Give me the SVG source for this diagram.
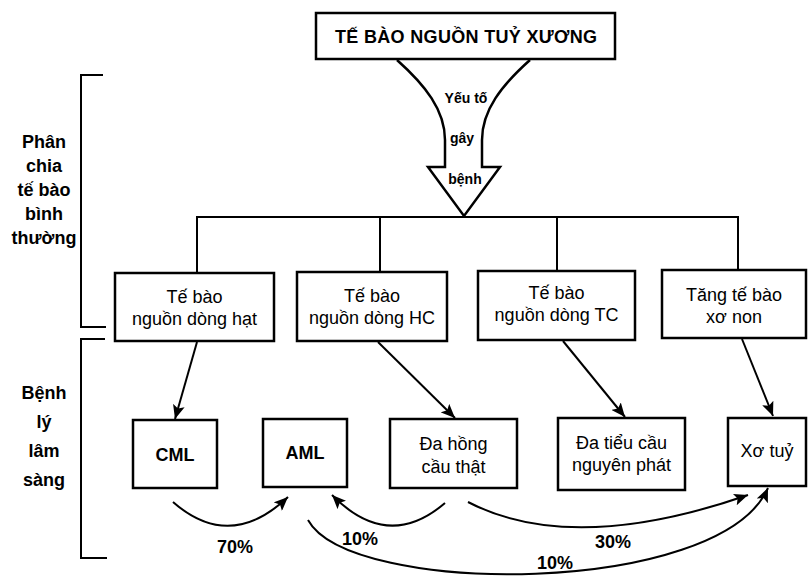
<svg xmlns="http://www.w3.org/2000/svg" width="809" height="577" viewBox="0 0 809 577">
<style>
text{font-family:"Liberation Sans",Arial,sans-serif;fill:#000;text-anchor:middle}
.t{font-size:18px}
.b{font-size:18px;font-weight:bold}
.s{font-size:14px;font-weight:bold}
.box{fill:#fff;stroke:#000;stroke-width:2.5}
.ln{fill:none;stroke:#000;stroke-width:2}
.ar{fill:none;stroke:#000;stroke-width:2;marker-end:url(#ah)}
</style>
<defs>
<marker id="ah" markerUnits="userSpaceOnUse" markerWidth="16" markerHeight="12" refX="14" refY="6" orient="auto">
<path d="M0,0 L14,6 L0,12 L3,6 z" fill="#000"/>
</marker>
</defs>
<rect width="809" height="577" fill="#fff"/>
<g id="labels-left">
<path class="ln" d="M103,75 H81 V327 H106"/>
<text class="b" x="44" y="148">Phân</text>
<text class="b" x="44" y="172">chia</text>
<text class="b" x="44" y="196">tế bào</text>
<text class="b" x="44" y="220">bình</text>
<text class="b" x="44" y="244">thường</text>
<path class="ln" d="M105,339 H81 V558 H107"/>
<text class="b" x="44" y="399">Bệnh</text>
<text class="b" x="44" y="428">lý</text>
<text class="b" x="44" y="457">lâm</text>
<text class="b" x="44" y="486">sàng</text>
</g>
<g id="connectors">
<path id="bigarrow" d="M397,60 C425,85 445,110 445,140 L445,167 L428,167 L464,216 L500,167 L482,167 L482,140 C482,110 502,85 530,60" fill="#fff" stroke="#000" stroke-width="2.5" stroke-linejoin="miter"/>
<text class="s" x="466" y="103">Yếu tố</text>
<text class="s" x="462" y="143">gây</text>
<text class="s" x="465" y="184">bệnh</text>
<path class="ln" d="M197,273 V217 H738 V270 M380,217 V272 M557,217 V271"/>
<line class="ar" x1="197" y1="342" x2="175" y2="419"/>
<line class="ar" x1="378" y1="342" x2="455" y2="418"/>
<line class="ar" x1="563" y1="341" x2="625" y2="417"/>
<line class="ar" x1="742" y1="339" x2="773" y2="416"/>
<path class="ar" d="M173,502 Q230,552 288,497"/>
<path class="ar" d="M445,503 Q388,552 332,495"/>
<path class="ar" d="M468,502 Q572,556 748,495"/>
<path class="ar" d="M308,520 C350,597 720,597 768,488"/>
<text class="b" x="235" y="553">70%</text>
<text class="b" x="360" y="545">10%</text>
<text class="b" x="613" y="548">30%</text>
<text class="b" x="555" y="569">10%</text>
</g>
<g id="n-top">
<rect class="box" x="316" y="13" width="299" height="46"/>
<text class="b" x="466" y="43" textLength="262" lengthAdjust="spacing">TẾ BÀO NGUỒN TUỶ XƯƠNG</text>
</g>
<g id="n-hat">
<rect class="box" x="115" y="273" width="159" height="68"/>
<text class="t" x="194.5" y="303">Tế bào</text>
<text class="t" x="194.5" y="325">nguồn dòng hạt</text>
</g>
<g id="n-hc">
<rect class="box" x="297" y="272" width="150" height="69"/>
<text class="t" x="372" y="302">Tế bào</text>
<text class="t" x="372" y="324">nguồn dòng HC</text>
</g>
<g id="n-tc">
<rect class="box" x="478" y="271" width="157" height="69"/>
<text class="t" x="556.5" y="299">Tế bào</text>
<text class="t" x="556.5" y="321">nguồn dòng TC</text>
</g>
<g id="n-xo">
<rect class="box" x="662" y="270" width="144" height="68"/>
<text class="t" x="734" y="301">Tăng tế bào</text>
<text class="t" x="734" y="323">xơ non</text>
</g>
<g id="n-cml">
<rect class="box" x="133" y="420" width="84" height="68"/>
<text class="b" x="175" y="461">CML</text>
</g>
<g id="n-aml">
<rect class="box" x="263" y="419" width="84" height="68"/>
<text class="b" x="305" y="459">AML</text>
</g>
<g id="n-dahong">
<rect class="box" x="390" y="419" width="127" height="69"/>
<text class="t" x="453.5" y="450">Đa hồng</text>
<text class="t" x="453.5" y="473">cầu thật</text>
</g>
<g id="n-datieu">
<rect class="box" x="558" y="418" width="127" height="72"/>
<text class="t" x="621.5" y="449">Đa tiểu cầu</text>
<text class="t" x="621.5" y="471">nguyên phát</text>
</g>
<g id="n-xotuy">
<rect class="box" x="728" y="418" width="78" height="68"/>
<text class="t" x="767" y="457">Xơ tuỷ</text>
</g>
</svg>
